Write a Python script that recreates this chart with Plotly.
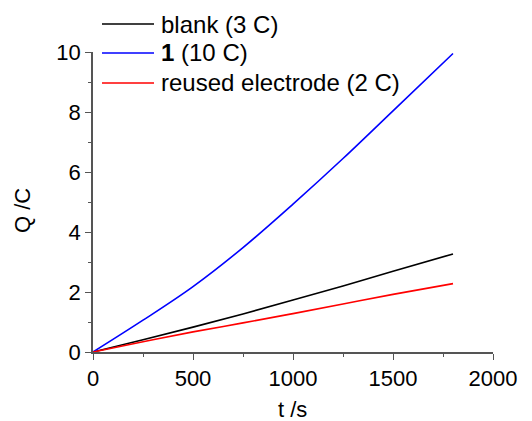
import plotly.graph_objects as go

# Charge passed during electrolysis
t_s = [0, 250, 500, 750, 1000, 1250, 1500, 1800]
q_blank = [0, 0.41, 0.83, 1.27, 1.73, 2.20, 2.69, 3.27]
q_one = [0, 1.06, 2.18, 3.48, 4.93, 6.45, 8.04, 9.95]
q_reused = [0, 0.34, 0.67, 0.97, 1.28, 1.60, 1.92, 2.28]

series_names = ["blank (3 C)", "<b>1</b> (10 C)", "reused electrode (2 C)"]
series_colors = ["#000000", "#0000FF", "#FF0000"]
series_values = [q_blank, q_one, q_reused]

x_ticks = [0, 500, 1000, 1500, 2000]
y_ticks = [0, 2, 4, 6, 8, 10]

FONT = "Liberation Sans, Arial, sans-serif"

fig = go.Figure()
for name, color, q in zip(series_names, series_colors, series_values):
    fig.add_trace(go.Scatter(
        x=t_s, y=q, mode="lines", name=name,
        line=dict(color=color, width=1.6, shape="spline", smoothing=1.0),
        showlegend=False,
    ))

axis_common = dict(
    showgrid=False, zeroline=False, showline=True,
    linecolor="#555555", linewidth=1.6,
    ticks="outside", ticklen=6, tickwidth=1.4, tickcolor="#555555",
    tickfont=dict(family=FONT, size=22, color="#000000"),
    minor=dict(ticks="outside", ticklen=3, tickwidth=1.4, tickcolor="#555555"),
)

fig.update_xaxes(range=[0, 2000], tickvals=x_ticks,
                 minor_dtick=250, **axis_common)
fig.update_yaxes(range=[0, 10], tickvals=y_ticks,
                 minor_dtick=1, **axis_common)

annotations = [
    dict(text="t /s", x=0.4975, y=-0.19, xref="paper", yref="paper",
         showarrow=False, font=dict(family=FONT, size=22, color="#000000"),
         xanchor="center", yanchor="middle"),
    dict(text="Q /C", x=-0.1775, y=0.47, xref="paper", yref="paper",
         showarrow=False, textangle=-90,
         font=dict(family=FONT, size=22, color="#000000"),
         xanchor="center", yanchor="middle"),
]

# Legend drawn as short line samples with labels
shapes = []
legend_rows = [1.0933, 0.9967, 0.8967]
for name, color, yrow in zip(series_names, series_colors, legend_rows):
    shapes.append(dict(type="line", xref="paper", yref="paper",
                       x0=0.0225, x1=0.1525, y0=yrow, y1=yrow,
                       line=dict(color=color, width=1.6)))
    annotations.append(dict(text=name, x=0.166, y=yrow,
                            xref="paper", yref="paper", showarrow=False,
                            xanchor="left", yanchor="middle",
                            font=dict(family=FONT, size=24, color="#000000")))

fig.update_layout(
    width=532, height=421,
    margin=dict(l=93, r=39, t=52, b=69),
    paper_bgcolor="white", plot_bgcolor="white",
    annotations=annotations, shapes=shapes,
)

fig.write_html("out.html")
